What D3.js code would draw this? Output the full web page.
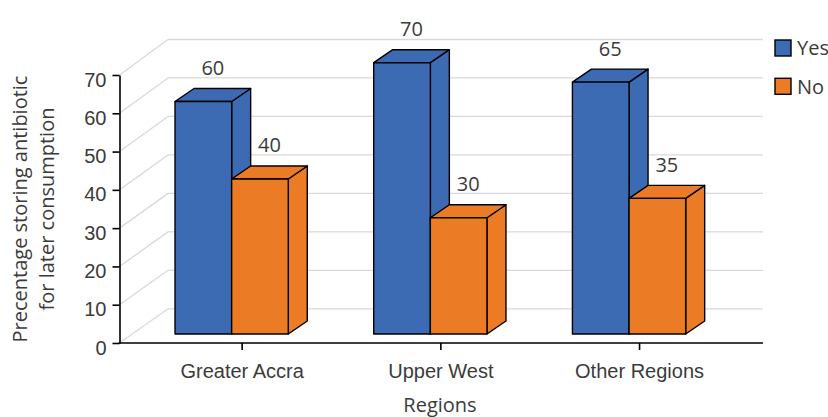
<!DOCTYPE html>
<html>
<head>
<meta charset="utf-8">
<script src="https://cdn.jsdelivr.net/npm/d3@7"></script>
<style>
  html, body { margin: 0; padding: 0; background: #fff; }
  svg { display: block; font-family: "Open Sans", "Noto Sans", sans-serif; }
</style>
</head>
<body>
<svg id="chart" width="828" height="417"></svg>
<script>
// Data
const categories = ["Greater Accra", "Upper West", "Other Regions"];
const seriesNames = ["Yes", "No"];
const yesValues = [60, 70, 65];
const noValues = [40, 30, 35];
const yTicks = [0, 10, 20, 30, 40, 50, 60, 70];
const seriesColors = ["#3d6bb3", "#ec7b26"];
const xTitle = "Regions";
const yTitleLines = ["Precentage storing antibiotic", "for later consumption"];

const rows = categories.map((c, i) => ({
  category: c,
  values: [
    { key: "Yes", value: yesValues[i] },
    { key: "No", value: noValues[i] }
  ]
}));

const svg = d3.select("#chart");
const textColor = "#3b3b3b";
const fontSize = 20;

// 3-D layout
const axisX = 119.5;          // front y-axis
const wallX = 168;            // back wall left edge
const wallRight = 763;        // right end of wall / axis
const depthX = 19, depthY = 13; // bar depth projection

// Scales: front axis, back wall and bar faces
const yAxisScale = d3.scaleLinear().domain([0, 70]).range([343, 75]);
const yWallScale = d3.scaleLinear().domain([0, 70]).range([308.8, 39.5]);
const yBarScale = d3.scaleLinear().domain([0, 70]).range([334, 62.7]);

const x0 = d3.scaleBand().domain(categories)
  .range([132.3, 728.4]).paddingInner(0.43).paddingOuter(0.215);
const x1 = d3.scaleBand().domain(seriesNames).range([0, x0.bandwidth()]);
const color = d3.scaleOrdinal().domain(seriesNames).range(seriesColors);

// Back wall gridlines and side-wall diagonals
const grid = svg.append("g").attr("stroke", "#d9d9d9").attr("stroke-width", 1.3).attr("fill", "none");
grid.selectAll("line.h").data(yTicks).join("line")
  .attr("class", "h")
  .attr("x1", wallX).attr("x2", wallRight)
  .attr("y1", d => yWallScale(d)).attr("y2", d => yWallScale(d));
grid.selectAll("line.d").data(yTicks).join("line")
  .attr("class", "d")
  .attr("x1", axisX).attr("y1", d => yAxisScale(d))
  .attr("x2", wallX).attr("y2", d => yWallScale(d));

// Bars
const bars = svg.append("g").attr("stroke", "#000").attr("stroke-width", 1.4)
  .attr("stroke-linejoin", "round");
rows.forEach(row => {
  row.values.forEach(d => {
    const xl = x0(row.category) + x1(d.key);
    const xr = xl + x1.bandwidth();
    const yt = yBarScale(d.value);
    const yb = yBarScale(0);
    const g = bars.append("g").attr("fill", color(d.key));
    // right side
    g.append("path").attr("d",
      `M${xr},${yt}L${xr + depthX},${yt - depthY}L${xr + depthX},${yb - depthY}L${xr},${yb}Z`);
    // top
    g.append("path").attr("d",
      `M${xl},${yt}L${xl + depthX},${yt - depthY}L${xr + depthX},${yt - depthY}L${xr},${yt}Z`);
    // front
    g.append("rect").attr("x", xl).attr("y", yt)
      .attr("width", x1.bandwidth()).attr("height", yb - yt);
  });
});

// Value labels
const labels = svg.append("g").attr("fill", textColor)
  .attr("font-size", fontSize).attr("text-anchor", "middle");
rows.forEach(row => {
  row.values.forEach(d => {
    const cx = x0(row.category) + x1(d.key) + x1.bandwidth() / 2 + depthX / 2;
    labels.append("text")
      .attr("x", cx)
      .attr("y", yBarScale(d.value) - depthY - 13.5)
      .text(d.value);
  });
});

// Y axis
const yAxis = d3.axisLeft(yAxisScale).tickValues(yTicks).tickSize(7).tickPadding(6).tickSizeOuter(0);
const gy = svg.append("g").attr("transform", `translate(${axisX},0)`).call(yAxis);
gy.select(".domain").attr("stroke", "#000").attr("stroke-width", 1.6);
gy.selectAll(".tick line").attr("stroke", "#000").attr("stroke-width", 1.6);
gy.selectAll(".tick text").attr("fill", textColor).attr("font-size", fontSize)
  .attr("font-family", null).attr("dy", "0.55em");

// X axis
const xAxisScale = d3.scaleBand().domain(categories)
  .range([132.3 + depthX / 2 + 1, 728.4 + depthX / 2 + 1]).paddingInner(0.43).paddingOuter(0.215);
const xAxis = d3.axisBottom(xAxisScale).tickSize(7).tickPadding(14).tickSizeOuter(0);
const gx = svg.append("g").attr("transform", `translate(0,${yAxisScale(0)})`).call(xAxis);
gx.select(".domain").remove();
gx.append("line").attr("x1", axisX - 0.8).attr("x2", wallRight)
  .attr("stroke", "#000").attr("stroke-width", 1.6);
gx.selectAll(".tick line").attr("stroke", "#000").attr("stroke-width", 1.6);
gx.selectAll(".tick text").attr("fill", textColor).attr("font-size", fontSize)
  .attr("font-family", null);

// Axis titles
svg.append("text").attr("x", 440).attr("y", 412).attr("text-anchor", "middle")
  .attr("fill", textColor).attr("font-size", fontSize).text(xTitle);
const yt = svg.append("text").attr("transform", "translate(0,209) rotate(-90)")
  .attr("text-anchor", "middle").attr("fill", textColor).attr("font-size", fontSize);
yTitleLines.forEach((line, i) => {
  yt.append("tspan").attr("x", 0).attr("y", 27 + i * 27).text(line);
});

// Legend
const legend = svg.append("g").attr("transform", "translate(775,40)");
seriesNames.forEach((name, i) => {
  const item = legend.append("g").attr("transform", `translate(0,${i * 38.3})`);
  item.append("rect").attr("width", 16).attr("height", 16)
    .attr("fill", color(name)).attr("stroke", "#000").attr("stroke-width", 1.4);
  item.append("text").attr("x", 22).attr("y", 8).attr("dy", "0.36em")
    .attr("fill", textColor).attr("font-size", fontSize).text(name);
});
</script>
</body>
</html>
